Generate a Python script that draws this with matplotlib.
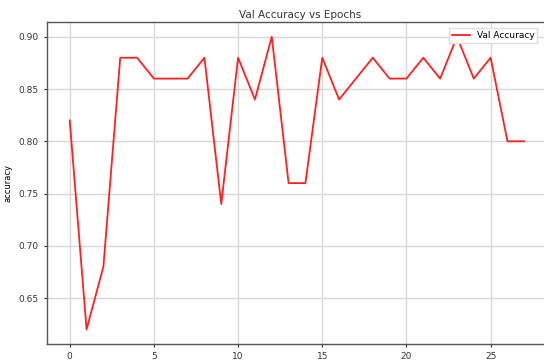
import numpy as np
import matplotlib
matplotlib.use('Agg')
import matplotlib.pyplot as plt

# validation accuracy per epoch
epochs = list(range(28))
val_accuracy = [0.82, 0.62, 0.68, 0.88, 0.88, 0.86, 0.86, 0.86, 0.88, 0.74,
                0.88, 0.84, 0.90, 0.76, 0.76, 0.88, 0.84, 0.86, 0.88, 0.86,
                0.86, 0.88, 0.86, 0.90, 0.86, 0.88, 0.80, 0.80]
x_ticks = [0, 5, 10, 15, 20, 25]
y_ticks = [0.65, 0.70, 0.75, 0.80, 0.85, 0.90]

fig = plt.figure(figsize=(5.44, 3.6), dpi=100)
ax = fig.add_axes([0.0864, 0.0444, 0.93, 0.894])

ax.plot(epochs, val_accuracy, color='#ff2020', linewidth=1.3, label='Val Accuracy')
ax.set_xlim(-1.35, 28.7)
ax.set_xticks(x_ticks)
ax.set_yticks(y_ticks)
ax.set_yticklabels([f'{v:.2f}' for v in y_ticks])
ax.tick_params(labelsize=6.5, colors='#333333', length=2.5)
ax.grid(True, color='#d8d8d8', linewidth=1.0)
for s in ax.spines.values():
    s.set_color('#555555')
    s.set_linewidth(1.0)

ax.set_title('Val Accuracy vs Epochs', fontsize=7.5, color='#333333', pad=3)
ax.set_xlabel('epochs', fontsize=6.5, labelpad=0)
ax.set_ylabel('accuracy', fontsize=6, labelpad=4)
ax.legend(loc='upper right', bbox_to_anchor=(0.978, 0.995),
          fontsize=6.5, frameon=True, fancybox=False, framealpha=1.0,
          edgecolor='#dddddd', borderpad=0.3)

fig.savefig('out.png', dpi=100)
